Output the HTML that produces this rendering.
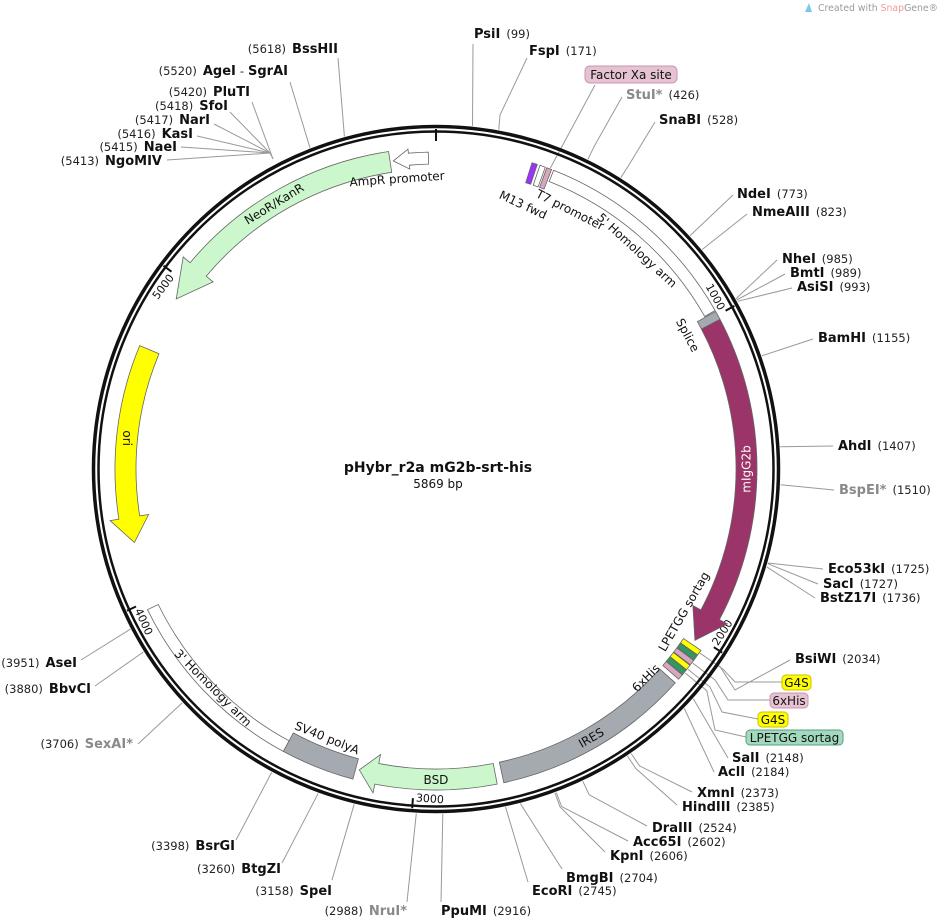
<!DOCTYPE html>
<html><head><meta charset="utf-8"><style>
html,body{margin:0;padding:0;background:#fff;}
svg{display:block;}
text{font-family:"DejaVu Sans","Liberation Sans",sans-serif;fill:#111;}
.b{font-weight:bold;font-size:13px;}
.n{font-size:11.5px;fill:#222;}
.g{fill:#8a8a8a;}
.f{font-size:12px;}
.t{font-size:11px;}
.ln{stroke:#999;stroke-width:1;fill:none;}
.ft{stroke:#666;stroke-width:0.8;}
</style></head><body>
<svg width="940" height="921" viewBox="0 0 940 921" xmlns="http://www.w3.org/2000/svg">
<!-- watermark -->
<path d="M805,12 L809,3 L812,12 Z" fill="#7cc8e8"/>
<text x="818" y="11" textLength="120" lengthAdjust="spacingAndGlyphs" style="font-size:10px;fill:#9a9a9a">Created with <tspan style="fill:#f29a9a">Snap</tspan>Gene®</text>

<!-- enzyme lines -->
<g class="ln">
<polyline points="473,44 472.5,125.9"/>
<polyline points="527,58 500,115 498.8,129.8"/>
<polyline points="622,97 594.5,145.8 587.9,159.3"/>
<polyline points="655,122 628.9,165 620.8,177.7"/>
<polyline points="733,195 690.1,235.6"/>
<polyline points="747,214 702.2,249.5"/>
<polyline points="777,260 736,298.7"/>
<polyline points="785,274 736.7,300"/>
<polyline points="792,288 737.5,301.3"/>
<polyline points="813,339 761.9,355.8"/>
<polyline points="833,446 780.3,446.7"/>
<polyline points="834,490 780.6,484.8"/>
<polyline points="823,569 767.9,563"/>
<polyline points="818,584 767.8,563.7"/>
<polyline points="815,598 766.8,566.9"/>
<polyline points="790,660 735,690 719.5,665.7"/>
<polyline points="728,758 693.3,698.8"/>
<polyline points="714,772 684.3,708.5"/>
<polyline points="692,792 639.6,765.9 631.1,753.5"/>
<polyline points="677,805 635.8,768.5 627.4,756"/>
<polyline points="647,826 589.2,794.8 582.8,781.2"/>
<polyline points="628,841 561.5,806.4 556.3,792.4"/>
<polyline points="605,852 560,806.9 554.9,792.9"/>
<polyline points="562,869 520.3,803.5"/>
<polyline points="528,882 505.5,806.9"/>
<polyline points="441,902 442.8,813.9"/>
<polyline points="407,902 416.3,813.4"/>
<polyline points="332,880 354.2,804.2"/>
<polyline points="282,863 318.2,793.3"/>
<polyline points="236,840 271.7,772.4"/>
<polyline points="138,744 182.3,702.8"/>
<polyline points="95,686 143.5,651.9"/>
<polyline points="81,660 130.4,629.1"/>
<polyline points="167,160 270,153 273,159"/>
<polyline points="181,147 270,153"/>
<polyline points="197,136 270,153"/>
<polyline points="214,124 270,153"/>
<polyline points="230,112 270,153"/>
<polyline points="252,102 273,159"/>
<polyline points="290,82 310,147.8"/>
<polyline points="338,58 344.4,136.4"/>
<polyline points="595,85 550.4,168"/>
<polyline points="782,682 735,682 723.1,669.2 700.1,653.2"/>
<polyline points="770,700 728,700 715.2,680.1 692.8,663.2"/>
<polyline points="758,719 722,712 709.9,686.9 688,669.4"/>
<polyline points="746,737 715,730 706.8,690.7 685.2,673"/>
</g>

<!-- backbone -->
<circle cx="436" cy="469" r="342.5" fill="none" stroke="#111" stroke-width="3.5"/>
<circle cx="436" cy="469" r="337.5" fill="none" stroke="#111" stroke-width="2.5"/>
<g stroke="#111" stroke-width="2">
<line x1="436" y1="129" x2="436" y2="141"/>
<line x1="734.4" y1="305.9" x2="725.6" y2="310.7"/>
<line x1="722.2" y1="652.6" x2="713.8" y2="647.2"/>
<line x1="412.2" y1="808.2" x2="412.9" y2="798.2"/>
<line x1="127" y1="610.7" x2="136" y2="606.5"/>
<line x1="163.5" y1="265.7" x2="171.5" y2="271.7"/>
</g>
<g class="t">
<text transform="translate(720.3,313.6) rotate(61.34)" x="-3" text-anchor="end">1000</text>
<text transform="translate(716.3,648.8) rotate(-57.32)" x="3" text-anchor="start">2000</text>
<text transform="translate(412.7,801.2) rotate(4.02)" x="3" text-anchor="start">3000</text>
<text transform="translate(133.3,607.8) rotate(65.36)" x="3" text-anchor="start">4000</text>
<text transform="translate(176.3,275.3) rotate(-53.3)" x="-3" text-anchor="end">5000</text>
</g>

<!-- features -->
<path class="ft" fill="#fff" stroke="#888" d="M553.6,170.3 A321,321 0 0 1 715.1,310.5 L704.7,316.4 A309,309 0 0 0 549.2,181.5 Z"/>
<path class="ft" fill="#a5aab0" d="M715.7,311.4 A321,321 0 0 1 720,319.3 L701.4,329.1 A300,300 0 0 0 697.4,321.7 Z"/>
<path class="ft" fill="#9b3468" d="M720,319.3 A321,321 0 0 1 719.4,619.7 L727.4,623.9 L694.9,640.4 L692.9,605.6 L700.9,609.9 A300,300 0 0 0 701.4,329.1 Z"/>
<path class="ft" fill="#a5aab0" d="M675.3,682.9 A321,321 0 0 1 503.8,782.7 L499.4,762.2 A300,300 0 0 0 659.7,669 Z"/>
<path class="ft" fill="#ccf7cc" d="M497.2,784.1 A321,321 0 0 1 374.8,784.1 L373,792.9 L359.3,769.9 L380.5,754.6 L378.8,763.5 A300,300 0 0 0 493.2,763.5 Z"/>
<path class="ft" fill="#a5aab0" d="M352.9,779.1 A321,321 0 0 1 283.3,751.4 L293.3,732.9 A300,300 0 0 0 358.4,758.8 Z"/>
<path class="ft" fill="#fff" stroke="#888" d="M147.5,609.7 A321,321 0 0 0 283.3,751.4 L289,740.8 A309,309 0 0 1 158.3,604.5 Z"/>
<path class="ft" fill="#ffff00" d="M139.7,345.6 A321,321 0 0 0 118.9,519.2 L110.1,520.6 L134.4,542.5 L148.6,514.5 L139.7,515.9 A300,300 0 0 1 159,353.7 Z"/>
<path class="ft" fill="#ccf7cc" d="M388.6,151.5 A321,321 0 0 0 190.1,262.7 L183.2,256.9 L176.2,299 L213.1,281.9 L206.2,276.2 A300,300 0 0 1 391.7,172.3 Z"/>
<path class="ft" fill="#fff" d="M428.3,152.1 A317,317 0 0 0 408.4,153.2 L408,149.2 L393.3,160.9 L409.8,169.1 L409.4,165.2 A305,305 0 0 1 428.6,164.1 Z"/>
<polygon class="ft" fill="#9933ff" points="532,162.7 537.3,164.4 530.7,184.3 525.7,182.7"/>
<polygon class="ft" fill="#fff" points="540,165.3 545.3,167.2 538.1,186.9 533.2,185.2"/>
<polygon class="ft" fill="#d9a6c0" points="546.8,167.7 551.6,169.5 544,189.1 539.6,187.4"/>
<polygon class="ft" fill="#ffff00" points="700.9,650.4 697.6,654.9 680.5,642.8 683.5,638.5"/>
<polygon class="ft" fill="#2f9963" points="697.3,655.4 694.1,659.9 677.2,647.4 680.2,643.2"/>
<polygon class="ft" fill="#d9a6c0" points="693.7,660.4 690.3,664.8 673.7,652 676.8,647.9"/>
<polygon class="ft" fill="#ffff00" points="690,665.3 686.5,669.7 670.1,656.6 673.4,652.5"/>
<polygon class="ft" fill="#2f9963" points="686.2,670.1 682.6,674.5 666.5,661 669.8,657"/>
<polygon class="ft" fill="#d9a6c0" points="682.3,674.9 678.6,679.2 662.8,665.4 666.2,661.4"/>

<!-- feature labels -->
<g class="f" text-anchor="middle">
<text transform="translate(746.5,469) rotate(-90)" dy="4" style="fill:#fff">mIgG2b</text>
<text transform="translate(591.3,737.9) rotate(-30)" dy="4">IRES</text>
<text x="436" y="784">BSD</text>
<text transform="translate(127,438.2) rotate(90)" dy="4">ori</text>
<text transform="translate(274.2,204) rotate(-31.4)" dy="4">NeoR/KanR</text>
<text transform="translate(683.9,611.6) rotate(-60.1)" dy="4">LPETGG sortag</text>
<text transform="translate(646,678) rotate(-45)" dy="4">6xHis</text>
<text transform="translate(687.6,335.2) rotate(62)" dy="4">Splice</text>
<text transform="translate(637,250.4) rotate(42.6)" dy="4">5' Homology arm</text>
<text transform="translate(570,210) rotate(27)" dy="4">T7 promoter</text>
<text transform="translate(523,205) rotate(25)" dy="4">M13 fwd</text>
<text transform="translate(213,688) rotate(45)" dy="4">3' Homology arm</text>
<text transform="translate(327,738) rotate(22)" dy="4">SV40 polyA</text>
<text transform="translate(397,179) rotate(-4)" dy="4">AmpR promoter</text>
</g>

<!-- center -->
<text x="438" y="472" text-anchor="middle" style="font-weight:bold;font-size:14px">pHybr_r2a mG2b-srt-his</text>
<text x="438" y="488" text-anchor="middle" style="font-size:12px">5869 bp</text>

<!-- boxes -->
<rect x="585" y="66" width="92" height="17" rx="5" fill="#e6c3d3" stroke="#c896ad"/>
<text x="631" y="79" text-anchor="middle" class="f">Factor Xa site</text>
<rect x="782" y="675" width="29" height="15" rx="4" fill="#ffff00" stroke="#c8c000"/>
<text x="796.5" y="687" text-anchor="middle" class="f">G4S</text>
<rect x="770" y="693" width="38" height="15" rx="4" fill="#e6c3d3" stroke="#c896ad"/>
<text x="789" y="705" text-anchor="middle" class="f">6xHis</text>
<rect x="758" y="712" width="30" height="15" rx="4" fill="#ffff00" stroke="#c8c000"/>
<text x="773" y="724" text-anchor="middle" class="f">G4S</text>
<rect x="746" y="730" width="97" height="15" rx="4" fill="#a3d9be" stroke="#5aa080"/>
<text x="794.5" y="742" text-anchor="middle" class="f">LPETGG sortag</text>

<!-- right labels -->
<text x="474" y="38"><tspan class="b">PsiI</tspan><tspan class="n" dx="6">(99)</tspan></text>
<text x="529" y="55"><tspan class="b">FspI</tspan><tspan class="n" dx="6">(171)</tspan></text>
<text x="626" y="99"><tspan class="b g">StuI*</tspan><tspan class="n" dx="6">(426)</tspan></text>
<text x="659" y="124"><tspan class="b">SnaBI</tspan><tspan class="n" dx="6">(528)</tspan></text>
<text x="737" y="198"><tspan class="b">NdeI</tspan><tspan class="n" dx="6">(773)</tspan></text>
<text x="752" y="216"><tspan class="b">NmeAIII</tspan><tspan class="n" dx="6">(823)</tspan></text>
<text x="782" y="263"><tspan class="b">NheI</tspan><tspan class="n" dx="6">(985)</tspan></text>
<text x="790" y="277"><tspan class="b">BmtI</tspan><tspan class="n" dx="6">(989)</tspan></text>
<text x="797" y="291"><tspan class="b">AsiSI</tspan><tspan class="n" dx="6">(993)</tspan></text>
<text x="818" y="342"><tspan class="b">BamHI</tspan><tspan class="n" dx="6">(1155)</tspan></text>
<text x="838" y="450"><tspan class="b">AhdI</tspan><tspan class="n" dx="6">(1407)</tspan></text>
<text x="839" y="494"><tspan class="b g">BspEI*</tspan><tspan class="n" dx="6">(1510)</tspan></text>
<text x="828" y="573"><tspan class="b">Eco53kI</tspan><tspan class="n" dx="6">(1725)</tspan></text>
<text x="823" y="588"><tspan class="b">SacI</tspan><tspan class="n" dx="6">(1727)</tspan></text>
<text x="820" y="602"><tspan class="b">BstZ17I</tspan><tspan class="n" dx="6">(1736)</tspan></text>
<text x="795" y="663"><tspan class="b">BsiWI</tspan><tspan class="n" dx="6">(2034)</tspan></text>
<text x="732" y="762"><tspan class="b">SalI</tspan><tspan class="n" dx="6">(2148)</tspan></text>
<text x="718" y="776"><tspan class="b">AclI</tspan><tspan class="n" dx="6">(2184)</tspan></text>
<text x="697" y="797"><tspan class="b">XmnI</tspan><tspan class="n" dx="6">(2373)</tspan></text>
<text x="682" y="811"><tspan class="b">HindIII</tspan><tspan class="n" dx="6">(2385)</tspan></text>
<text x="652" y="832"><tspan class="b">DraIII</tspan><tspan class="n" dx="6">(2524)</tspan></text>
<text x="633" y="846"><tspan class="b">Acc65I</tspan><tspan class="n" dx="6">(2602)</tspan></text>
<text x="610" y="860"><tspan class="b">KpnI</tspan><tspan class="n" dx="6">(2606)</tspan></text>
<text x="566" y="882"><tspan class="b">BmgBI</tspan><tspan class="n" dx="6">(2704)</tspan></text>
<text x="532" y="895"><tspan class="b">EcoRI</tspan><tspan class="n" dx="6">(2745)</tspan></text>
<text x="441" y="915"><tspan class="b">PpuMI</tspan><tspan class="n" dx="6">(2916)</tspan></text>

<!-- left labels -->
<g text-anchor="end">
<text x="407" y="915"><tspan class="n">(2988)</tspan><tspan class="b g" dx="6">NruI*</tspan></text>
<text x="332" y="895"><tspan class="n">(3158)</tspan><tspan class="b" dx="6">SpeI</tspan></text>
<text x="281" y="873"><tspan class="n">(3260)</tspan><tspan class="b" dx="6">BtgZI</tspan></text>
<text x="235" y="850"><tspan class="n">(3398)</tspan><tspan class="b" dx="6">BsrGI</tspan></text>
<text x="133" y="748"><tspan class="n">(3706)</tspan><tspan class="b g" dx="6">SexAI*</tspan></text>
<text x="91" y="693"><tspan class="n">(3880)</tspan><tspan class="b" dx="6">BbvCI</tspan></text>
<text x="77" y="667"><tspan class="n">(3951)</tspan><tspan class="b" dx="6">AseI</tspan></text>
<text x="162" y="165"><tspan class="n">(5413)</tspan><tspan class="b" dx="6">NgoMIV</tspan></text>
<text x="177" y="151"><tspan class="n">(5415)</tspan><tspan class="b" dx="6">NaeI</tspan></text>
<text x="193" y="138"><tspan class="n">(5416)</tspan><tspan class="b" dx="6">KasI</tspan></text>
<text x="210" y="124"><tspan class="n">(5417)</tspan><tspan class="b" dx="6">NarI</tspan></text>
<text x="228" y="110"><tspan class="n">(5418)</tspan><tspan class="b" dx="6">SfoI</tspan></text>
<text x="250" y="96"><tspan class="n">(5420)</tspan><tspan class="b" dx="6">PluTI</tspan></text>
<text x="288" y="75"><tspan class="n">(5520)</tspan><tspan class="b" dx="6">AgeI</tspan><tspan class="n" dx="4">-</tspan><tspan class="b" dx="4">SgrAI</tspan></text>
<text x="338" y="53"><tspan class="n">(5618)</tspan><tspan class="b" dx="6">BssHII</tspan></text>
</g>
</svg>
</body></html>
